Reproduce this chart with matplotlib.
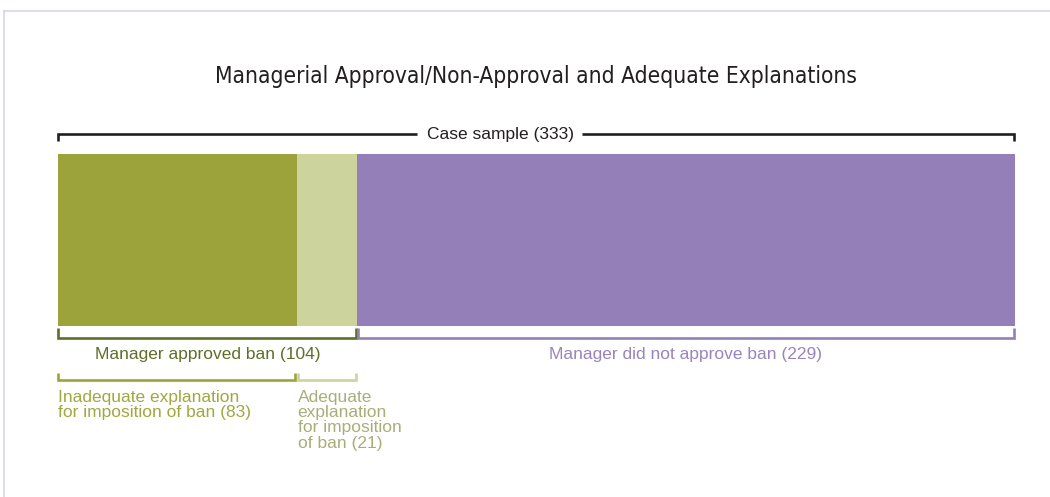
import matplotlib
matplotlib.use("Agg")
import matplotlib.pyplot as plt
from matplotlib.lines import Line2D

# Case counts
total = 333
approved = 104
not_approved = 229
inadequate = 83
adequate = 21

title = "Managerial Approval/Non-Approval and Adequate Explanations"
top_label = "Case sample (333)"
approved_label = "Manager approved ban (104)"
not_approved_label = "Manager did not approve ban (229)"
inadequate_label = "Inadequate explanation\nfor imposition of ban (83)"
adequate_label = "Adequate\nexplanation\nfor imposition\nof ban (21)"

olive = "#9ca33b"
olive_light = "#cdd39c"
purple = "#957fb8"
olive_dark = "#5e6f28"
black = "#231f20"

W, H = 1050, 497
fig = plt.figure(figsize=(W / 100, H / 100), dpi=100)

# thin frame along the left and top
frame = "#d9d5ea"
fig.add_artist(Line2D([4 / W, 4 / W], [0, 1 - 11 / H], transform=fig.transFigure, color=frame, lw=1.2))
fig.add_artist(Line2D([4 / W, 1], [1 - 11 / H, 1 - 11 / H], transform=fig.transFigure, color=frame, lw=1.2))

fig.text(536 / W, 1 - 77 / H, title, ha="center", va="center", fontsize=16.3,
         family=["DejaVu Sans"], stretch="condensed", color=black)

# x in case counts, y in pixel rows
ax = fig.add_axes([58 / W, 0, 957 / W, 1])
ax.set_xlim(0, total)
ax.set_ylim(H, 0)
ax.axis("off")

body = ["Liberation Sans", "DejaVu Sans"]
fs = 12.5

# stacked bar
ax.barh(240, inadequate, left=0, height=172, color=olive)
ax.barh(240, adequate, left=inadequate, height=172, color=olive_light)
ax.barh(240, not_approved, left=approved, height=172, color=purple)


def bracket(x0, x1, y, tick, color, gap=None):
    lw = 1.9
    if gap is None:
        ax.plot([x0, x0, x1, x1], [y + tick, y, y, y + tick], color=color, lw=lw,
                solid_joinstyle="miter", solid_capstyle="butt", clip_on=False)
    else:
        ax.plot([x0, x0, gap[0]], [y + tick, y, y], color=color, lw=lw,
                solid_joinstyle="miter", solid_capstyle="butt", clip_on=False)
        ax.plot([gap[1], x1, x1], [y, y, y + tick], color=color, lw=lw,
                solid_joinstyle="miter", solid_capstyle="butt", clip_on=False)


pad = 0.4
top_x = total * 0.462
bracket(0, total - pad, 134, 7, black, gap=(top_x - 29, top_x + 28.5))
ax.text(top_x, 134, top_label, ha="center", va="center", fontsize=fs, family=body, color=black)

bracket(0, approved - pad, 338, -10, olive_dark)
bracket(approved + pad, total - pad, 338, -10, purple)
ax.text(approved / 2, 354, approved_label, ha="center", va="center", fontsize=fs,
        family=body, color=olive_dark)
ax.text(approved + not_approved / 2, 354, not_approved_label, ha="center", va="center",
        fontsize=fs, family=body, color="#9a84bd")

bracket(0, inadequate - pad, 380, -7, olive)
bracket(inadequate + pad, approved - pad, 380, -7, olive_light)
ax.text(0, 390, inadequate_label, ha="left", va="top", fontsize=fs, family=body,
        color="#a0a83e", linespacing=1.02)
ax.text(inadequate + pad, 390, adequate_label, ha="left", va="top", fontsize=fs,
        family=body, color="#a9ae78", linespacing=1.02)

fig.savefig("out.png", dpi=100)
